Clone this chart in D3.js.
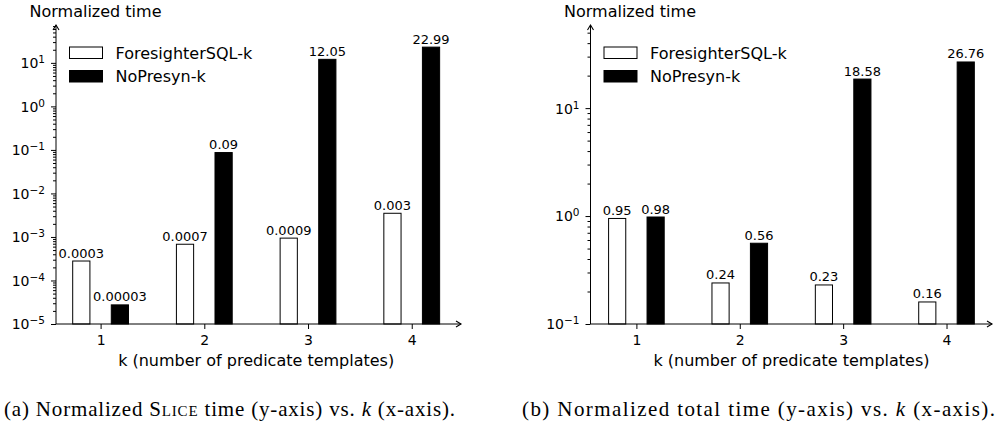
<!DOCTYPE html>
<html>
<head>
<meta charset="utf-8">
<script src="https://cdn.jsdelivr.net/npm/d3@7"></script>
<style>
  body { margin: 0; background: #fff; }
  svg { display: block; }
</style>
</head>
<body>
<div id="chart"></div>
<script>
const categories = [1, 2, 3, 4]
const seriesNames = ["ForesighterSQL-k", "NoPresyn-k"]

// (a) slice time
const sliceForesighter = [0.00028, 0.00068, 0.00094, 0.0035]
const sliceNoPresyn = [0.0000275, 0.087, 12.05, 22.99]
const sliceForesighterLabels = ["0.0003", "0.0007", "0.0009", "0.003"]
const sliceNoPresynLabels = ["0.00003", "0.09", "12.05", "22.99"]
const sliceTicks = [-5, -4, -3, -2, -1, 0, 1]

// (b) total time
const totalForesighter = [0.95, 0.24, 0.23, 0.16]
const totalNoPresyn = [0.98, 0.56, 18.58, 26.76]
const totalForesighterLabels = ["0.95", "0.24", "0.23", "0.16"]
const totalNoPresynLabels = ["0.98", "0.56", "18.58", "26.76"]
const totalTicks = [-1, 0, 1]

const width = 1003, height = 426
const font = "DejaVu Sans"

const svg = d3.select("#chart").append("svg")
    .attr("width", width)
    .attr("height", height)

const defs = svg.append("defs")
defs.append("marker")
    .attr("id", "arrow")
    .attr("viewBox", "-6 -4 8 8")
    .attr("markerWidth", 8)
    .attr("markerHeight", 8)
    .attr("markerUnits", "userSpaceOnUse")
    .attr("refX", 0)
    .attr("refY", 0)
    .attr("orient", "auto")
    .append("path")
    .attr("d", "M-5,-3L0,0L-5,3")
    .attr("fill", "none")
    .attr("stroke", "#000")
    .attr("stroke-width", 1.1)

function panel(opts) {
    const { left, right, bottom, top, xDomain, yDomain, ticks, white, black, whiteLabels, blackLabels } = opts

    const x = d3.scaleLinear().domain(xDomain).range([left, right])
    const y = d3.scaleLog().domain(yDomain).range([bottom, top])
    const unit = x(2) - x(1)
    const offset = 0.186, barW = 0.166

    const g = svg.append("g").attr("font-family", font)

    // minor ticks
    const minors = []
    for (let e = Math.floor(Math.log10(yDomain[0])); e <= Math.ceil(Math.log10(yDomain[1])); e++) {
        for (let m = 2; m <= 9; m++) {
            const v = m * Math.pow(10, e)
            if (v > yDomain[0] && v < yDomain[1]) minors.push(v)
        }
    }
    g.append("g")
        .attr("transform", `translate(${left},0)`)
        .call(d3.axisLeft(y).tickValues(minors).tickSize(3).tickFormat(""))
        .call(a => a.select(".domain").remove())

    // major ticks
    g.append("g")
        .attr("transform", `translate(${left},0)`)
        .call(d3.axisLeft(y).tickValues(ticks.map(e => Math.pow(10, e))).tickSize(5).tickPadding(6).tickFormat(""))
        .attr("font-family", font)
        .call(a => a.select(".domain").remove())
        .call(a => a.selectAll(".tick text")
            .attr("font-size", 14)
            .attr("dy", "0.35em")
            .each(function (d) {
                const t = d3.select(this)
                const e = Math.round(Math.log10(d))
                t.append("tspan").text("10")
                t.append("tspan")
                    .attr("font-size", 10.5)
                    .attr("dy", -5)
                    .text(String(e).replace("-", "\u2212"))
            }))

    // x axis
    g.append("g")
        .attr("transform", `translate(0,${bottom})`)
        .call(d3.axisBottom(x).tickValues(categories).tickSize(5).tickPadding(6).tickFormat(d3.format("d")))
        .attr("font-family", font)
        .call(a => a.select(".domain").remove())
        .call(a => a.selectAll(".tick text").attr("font-size", 14))

    // bars
    const bars = [
        { vals: white, labels: whiteLabels, dx: -offset, fill: "#fff" },
        { vals: black, labels: blackLabels, dx: offset, fill: "#000" }
    ]
    bars.forEach(s => {
        g.append("g").selectAll("rect")
            .data(categories)
            .join("rect")
            .attr("x", (d, i) => x(d + s.dx) - barW * unit / 2)
            .attr("y", (d, i) => y(s.vals[i]))
            .attr("width", barW * unit)
            .attr("height", (d, i) => bottom - y(s.vals[i]))
            .attr("fill", s.fill)
            .attr("stroke", "#000")
            .attr("stroke-width", 1)

        g.append("g").selectAll("text")
            .data(categories)
            .join("text")
            .attr("x", (d, i) => x(d + s.dx))
            .attr("y", (d, i) => y(s.vals[i]) - 3.5)
            .attr("text-anchor", "middle")
            .attr("font-size", 13)
            .text((d, i) => s.labels[i])
    })

    // spines with arrows
    g.append("line")
        .attr("x1", left).attr("x2", left)
        .attr("y1", bottom).attr("y2", top)
        .attr("stroke", "#000")
        .attr("marker-end", "url(#arrow)")
    g.append("line")
        .attr("x1", left).attr("x2", right)
        .attr("y1", bottom).attr("y2", bottom)
        .attr("stroke", "#000")
        .attr("marker-end", "url(#arrow)")

    // axis titles
    g.append("text")
        .attr("x", left - 26.5)
        .attr("y", 17)
        .attr("font-size", 16)
        .text("Normalized time")
    g.append("text")
        .attr("x", (x(1) + x(4)) / 2)
        .attr("y", bottom + 42)
        .attr("text-anchor", "middle")
        .attr("font-size", 16)
        .text("k (number of predicate templates)")

    // legend
    const lg = g.append("g").attr("transform", `translate(${left + 13.5},47)`)
    seriesNames.forEach((name, i) => {
        lg.append("rect")
            .attr("x", 0)
            .attr("y", i * 23.5)
            .attr("width", 33)
            .attr("height", 11.5)
            .attr("fill", i ? "#000" : "#fff")
            .attr("stroke", "#000")
        lg.append("text")
            .attr("x", 46)
            .attr("y", i * 23.5 + 11.5)
            .attr("font-size", 16)
            .text(name)
    })
    return g
}

panel({
    left: 56, right: 461, bottom: 324, top: 25,
    xDomain: [0.57, 4.475], yDomain: [1e-5, Math.pow(10, 1.87)], ticks: sliceTicks,
    white: sliceForesighter, black: sliceNoPresyn,
    whiteLabels: sliceForesighterLabels, blackLabels: sliceNoPresynLabels
})

panel({
    left: 590.5, right: 992, bottom: 324, top: 25,
    xDomain: [0.556, 4.44], yDomain: [0.1, Math.pow(10, 1.77)], ticks: totalTicks,
    white: totalForesighter, black: totalNoPresyn,
    whiteLabels: totalForesighterLabels, blackLabels: totalNoPresynLabels
})

// captions
const cap = svg.append("g")
    .attr("font-family", "Liberation Serif")
    .attr("font-size", 21)

const capA = cap.append("text").attr("x", 4).attr("y", 416)
    .attr("textLength", 451).attr("lengthAdjust", "spacing")
capA.append("tspan").text("(a) Normalized ")
capA.append("tspan").style("font-variant", "small-caps").text("Slice")
capA.append("tspan").text(" time (y-axis) vs. ")
capA.append("tspan").attr("font-style", "italic").text("k")
capA.append("tspan").text(" (x-axis).")

const capB = cap.append("text").attr("x", 522).attr("y", 416)
    .attr("textLength", 473).attr("lengthAdjust", "spacing")
capB.append("tspan").text("(b) Normalized total time (y-axis) vs. ")
capB.append("tspan").attr("font-style", "italic").text("k")
capB.append("tspan").text(" (x-axis).")
</script>
</body>
</html>
